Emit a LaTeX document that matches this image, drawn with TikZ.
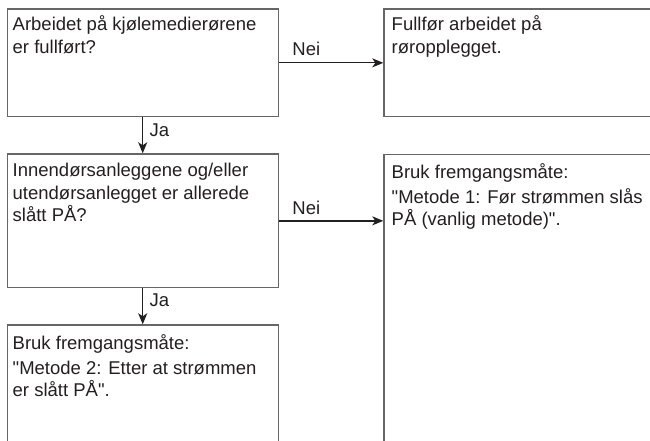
\documentclass[tikz,border=0pt]{standalone}
\usepackage{fontspec}
\setmainfont{Liberation Sans}[Ligatures=TeXOff]
\usetikzlibrary{arrows.meta}
\definecolor{boxline}{HTML}{666666}
\definecolor{ink}{HTML}{231F20}
\tikzset{
  box/.style={draw=boxline, line width=1.4pt, rectangle, inner sep=0pt, anchor=north west},
  txt/.style={anchor=base west, inner sep=0pt, text=ink, font=\fontsize{18.5}{22.5}\selectfont},
  lbl/.style={inner sep=0pt, text=ink, font=\fontsize{18.5}{22.5}\selectfont},
  arr/.style={draw=ink, line width=1.3pt, -{Stealth[length=11pt,width=9pt,inset=3pt]}}
}
\begin{document}
\begin{tikzpicture}[x=1pt,y=-1pt]
\useasboundingbox (0,0) rectangle (650,441);
\clip (0,0) rectangle (650,441);
% boxes
\node[box, minimum width=271pt, minimum height=107.7pt] (b1) at (6.5,8.3) {};
\node[box, minimum width=277pt, minimum height=107.7pt] (b2) at (383.3,8.3) {};
\node[box, minimum width=271pt, minimum height=133.7pt] (b3) at (6.5,153.3) {};
\node[box, minimum width=277pt, minimum height=300pt] (b4) at (383.3,154) {};
\node[box, minimum width=271pt, minimum height=130pt] (b5) at (6.5,324.3) {};
% texts
\node[txt] (t1) at (12.5,31) {\parbox[t]{262pt}{Arbeidet på kjølemedierørene\\er fullført?}};
\node[txt] (t2) at (391.5,31) {\parbox[t]{255pt}{Fullfør arbeidet på\\røropplegget.}};
\node[txt] (t3) at (12.5,176.5) {\parbox[t]{262pt}{Innendørsanleggene og/eller\\utendørsanlegget er allerede\\slått PÅ?}};
\node[txt] (t4) at (391.5,178) {\parbox[t]{255pt}{Bruk fremgangsmåte:\\[2.5pt]"Metode 1: Før strømmen slås\\PÅ (vanlig metode)".}};
\node[txt] (t5) at (12.5,349) {\parbox[t]{262pt}{Bruk fremgangsmåte:\\[2.5pt]"Metode 2: Etter at strømmen\\er slått PÅ".}};
% connectors
\draw[arr] (b1.south) -- (b3.north);
\draw[arr] (b1.east) -- (b2.west);
\draw[arr] (b3.east) -- (b3.east -| b4.west);
\draw[arr] (b3.south) -- (b5.north);
% labels
\node[lbl, anchor=base] (n1) at (306.3,55.2) {Nei};
\node[lbl, anchor=base] (n2) at (306.3,214.2) {Nei};
\node[lbl, anchor=base west] (j1) at (149.3,136) {Ja};
\node[lbl, anchor=base west] (j2) at (149.3,306.5) {Ja};
\end{tikzpicture}
\end{document}
